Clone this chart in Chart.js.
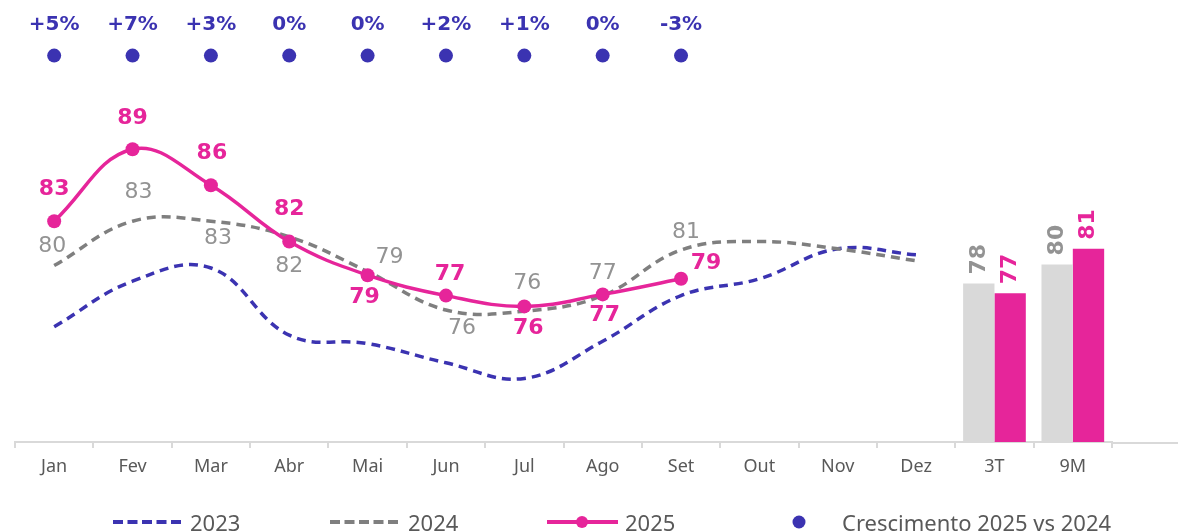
<!DOCTYPE html>
<html>
<head>
<meta charset="utf-8">
<script src="https://cdn.jsdelivr.net/npm/chart.js@4.4.0/dist/chart.umd.min.js"></script>
<style>
    html, body { margin: 0; padding: 0; background: #fff; }
    #wrap { width: 1178px; height: 532px; }
</style>
</head>
<body>
<div id="wrap"><canvas id="chart" width="1178" height="532"></canvas></div>
<script>
// Categories
const months = ['Jan', 'Fev', 'Mar', 'Abr', 'Mai', 'Jun', 'Jul', 'Ago', 'Set', 'Out', 'Nov', 'Dez'];
const periods = ['3T', '9M'];

// Monthly series
const values2023 = [74.6, 78.4, 79.5, 73.9, 73.2, 71.6, 70.3, 73.4, 77.2, 78.6, 81.1, 80.6];
const values2024 = [79.7, 83.4, 83.4, 82.1, 79.2, 76.0, 75.9, 77.2, 81.0, 81.7, 81.1, 80.1];
const values2025 = [83.4, 89.4, 86.4, 81.7, 78.9, 77.2, 76.3, 77.3, 78.6];

// Period bars (3T, 9M)
const bars2024 = [78.2, 79.8];
const bars2025 = [77.4, 81.1];

// Growth 2025 vs 2024 in %
const growth = [5, 7, 3, 0, 0, 2, 1, 0, -3];
const GROWTH_ROW = 97.2;

// label offsets from the point [dx, dy]
const labelOff2024 = [[-2, -19], [6, -29], [7, 17], [0, 29], [22, -14], [16, 18], [3, -28], [0, -22], [5, -18]];
const labelOff2025 = [[0, -32], [0, -31], [1, -32], [0, -32], [-3, 22], [4, -21], [4, 22], [2, 21], [25, -16]];

const BLUE = '#3b33b1';
const PINK = '#e6259a';
const GRAY_LINE = '#7f7f7f';
const GRAY_TEXT = '#939393';
const GRAY_BAR = '#d9d9d9';
const FONT = "'Noto Sans', sans-serif";
const NUM_FONT = "'DejaVu Sans', sans-serif";

const allLabels = months.concat(periods);
const pad = (arr) => arr.concat(new Array(allLabels.length - arr.length).fill(null));
const fmtGrowth = (n) => (n > 0 ? '+' : '') + n + '%';

const labelsPlugin = {
    id: 'labels',
    afterDatasetsDraw(chart) {
        const ctx = chart.ctx;
        ctx.save();
        ctx.textAlign = 'center';
        ctx.textBaseline = 'middle';

        // 2024 labels
        let meta = chart.getDatasetMeta(2);
        ctx.font = '22px ' + NUM_FONT;
        ctx.fillStyle = GRAY_TEXT;
        labelOff2024.forEach((o, i) => {
            const p = meta.data[i];
            ctx.fillText(Math.round(values2024[i]), p.x + o[0], p.y + o[1]);
        });

        // 2025 labels
        meta = chart.getDatasetMeta(3);
        ctx.font = 'bold 22px ' + NUM_FONT;
        ctx.fillStyle = PINK;
        labelOff2025.forEach((o, i) => {
            const p = meta.data[i];
            ctx.fillText(Math.round(values2025[i]), p.x + o[0], p.y + o[1]);
        });

        // growth labels
        meta = chart.getDatasetMeta(4);
        ctx.font = 'bold 20px ' + NUM_FONT;
        ctx.fillStyle = BLUE;
        growth.forEach((g, i) => {
            const p = meta.data[i];
            ctx.fillText(fmtGrowth(g), p.x, p.y - 31);
        });

        // bar labels, rotated
        [[0, bars2024, GRAY_TEXT], [1, bars2025, PINK]].forEach(([idx, vals, col]) => {
            const m = chart.getDatasetMeta(idx);
            vals.forEach((v, i) => {
                const bar = m.data[months.length + i];
                ctx.save();
                ctx.translate(bar.x, bar.y - 9);
                ctx.rotate(-Math.PI / 2);
                ctx.textAlign = 'left';
                ctx.font = 'bold 22px ' + NUM_FONT;
                ctx.fillStyle = col;
                ctx.fillText(Math.round(v), 0, 0);
                ctx.restore();
            });
        });
        ctx.restore();
    },
    afterDraw(chart) {
        const ctx = chart.ctx;
        const area = chart.chartArea;
        ctx.save();
        // baseline runs on past the last category
        ctx.strokeStyle = GRAY_BAR;
        ctx.lineWidth = 2;
        ctx.beginPath();
        ctx.moveTo(area.right, area.bottom + 1);
        ctx.lineTo(chart.width, area.bottom + 1);
        ctx.stroke();

        // legend
        const ly = 522;
        const drawSample = (x0, x1, color, dash) => {
            ctx.strokeStyle = color;
            ctx.lineWidth = 4;
            ctx.setLineDash(dash);
            ctx.beginPath();
            ctx.moveTo(x0, ly);
            ctx.lineTo(x1, ly);
            ctx.stroke();
            ctx.setLineDash([]);
        };
        drawSample(113, 184, BLUE, [10, 4.5]);
        drawSample(330, 401, GRAY_LINE, [10, 4.5]);
        drawSample(547, 618, PINK, []);
        ctx.fillStyle = PINK;
        ctx.beginPath();
        ctx.arc(582, ly, 6, 0, Math.PI * 2);
        ctx.fill();
        ctx.fillStyle = BLUE;
        ctx.beginPath();
        ctx.arc(799, ly, 6.5, 0, Math.PI * 2);
        ctx.fill();

        ctx.fillStyle = '#595959';
        ctx.font = '22px ' + FONT;
        ctx.textAlign = 'left';
        ctx.textBaseline = 'alphabetic';
        ctx.fillText('2023', 190, 531);
        ctx.fillText('2024', 408, 531);
        ctx.fillText('2025', 625, 531);
        ctx.fillText('Crescimento 2025 vs 2024', 842, 531);
        ctx.restore();
    }
};

new Chart(document.getElementById('chart'), {
    type: 'bar',
    data: {
        labels: allLabels,
        datasets: [
            {
                type: 'bar',
                label: '2024',
                data: new Array(months.length).fill(null).concat(bars2024),
                backgroundColor: GRAY_BAR,
                categoryPercentage: 0.8,
                barPercentage: 1.0,
                order: 5
            },
            {
                type: 'bar',
                label: '2025',
                data: new Array(months.length).fill(null).concat(bars2025),
                backgroundColor: PINK,
                categoryPercentage: 0.8,
                barPercentage: 1.0,
                order: 5
            },
            {
                type: 'line',
                label: '2024',
                data: pad(values2024),
                borderColor: GRAY_LINE,
                borderWidth: 3.5,
                borderDash: [9, 6],
                pointRadius: 0,
                tension: 0.4,
                order: 3
            },
            {
                type: 'line',
                label: '2025',
                data: pad(values2025),
                borderColor: PINK,
                backgroundColor: PINK,
                borderWidth: 3.5,
                pointRadius: 7,
                pointBackgroundColor: PINK,
                pointBorderWidth: 0,
                tension: 0.4,
                order: 1
            },
            {
                type: 'line',
                label: 'Crescimento 2025 vs 2024',
                data: pad(growth.map(() => GROWTH_ROW)),
                showLine: false,
                pointRadius: 7,
                pointBackgroundColor: BLUE,
                pointBorderWidth: 0,
                order: 2
            },
            {
                type: 'line',
                label: '2023',
                data: pad(values2023),
                borderColor: BLUE,
                borderWidth: 3.5,
                borderDash: [9, 6],
                pointRadius: 0,
                tension: 0.4,
                order: 4
            }
        ]
    },
    options: {
        responsive: false,
        animation: false,
        devicePixelRatio: 1,
        layout: { padding: { left: 15, right: 66, top: 22, bottom: 40 } },
        plugins: {
            legend: { display: false },
            tooltip: { enabled: false }
        },
        scales: {
            x: {
                offset: true,
                grid: {
                    display: true,
                    offset: true,
                    drawOnChartArea: false,
                    drawTicks: true,
                    tickLength: 6,
                    color: GRAY_BAR,
                    lineWidth: 2
                },
                border: { display: true, color: GRAY_BAR, width: 2 },
                ticks: {
                    color: '#595959',
                    font: { family: FONT, size: 18 },
                    padding: 8,
                    maxRotation: 0,
                    autoSkip: false
                },
                afterFit(scale) { scale.height = 50; }
            },
            y: {
                display: false,
                min: 65,
                max: 100
            }
        }
    },
    plugins: [labelsPlugin]
});
</script>
</body>
</html>
